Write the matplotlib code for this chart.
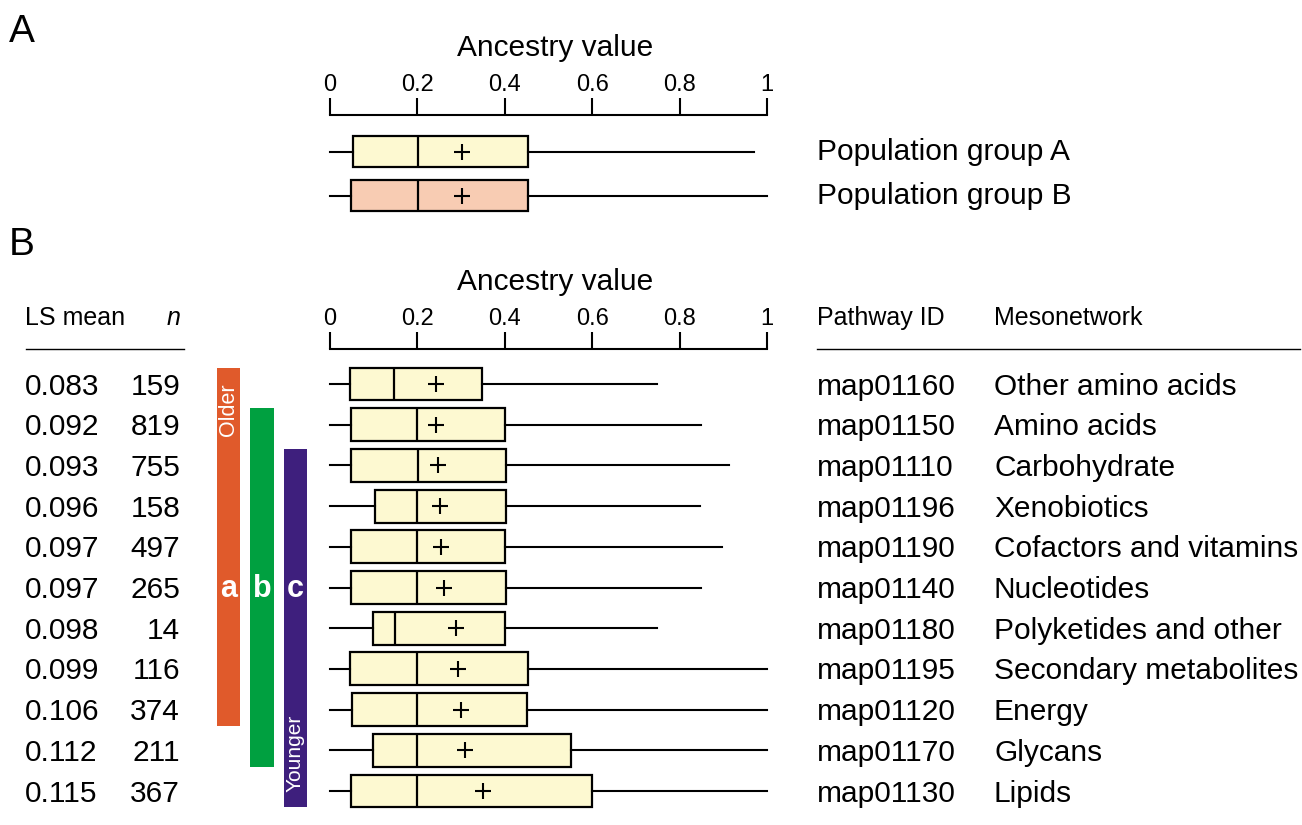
import matplotlib.pyplot as plt
from matplotlib.lines import Line2D
from matplotlib.transforms import blended_transform_factory

plt.rcParams['font.family'] = ['Liberation Sans', 'DejaVu Sans']

W, H = 1302, 825


def fx(px):
    return px / W


def fy(py):
    return 1 - py / H


# ---- data: panel A ----
groups_a = ["Population group A", "Population group B"]
a_q1 = [0.052, 0.049]
a_med = [0.201, 0.201]
a_q3 = [0.452, 0.452]
a_whislo = [0.0, 0.0]
a_whishi = [0.970, 1.0]
a_mean = [0.302, 0.302]
a_colors = ["#FDF9D1", "#F8CCB3"]

# ---- data: panel B ----
ls_mean = ["0.083", "0.092", "0.093", "0.096", "0.097", "0.097",
           "0.098", "0.099", "0.106", "0.112", "0.115"]
n_obs = ["159", "819", "755", "158", "497", "265", "14", "116", "374", "211", "367"]
pathway_ids = ["map01160", "map01150", "map01110", "map01196", "map01190", "map01140",
               "map01180", "map01195", "map01120", "map01170", "map01130"]
mesonetworks = ["Other amino acids", "Amino acids", "Carbohydrate", "Xenobiotics",
                "Cofactors and vitamins", "Nucleotides", "Polyketides and other",
                "Secondary metabolites", "Energy", "Glycans", "Lipids"]
b_q1 = [0.046, 0.048, 0.048, 0.102, 0.048, 0.048, 0.098, 0.046, 0.050, 0.098, 0.048]
b_med = [0.146, 0.200, 0.202, 0.200, 0.198, 0.200, 0.148, 0.198, 0.200, 0.198, 0.200]
b_q3 = [0.347, 0.400, 0.403, 0.403, 0.400, 0.403, 0.400, 0.452, 0.450, 0.551, 0.600]
b_whislo = [0.0] * 11
b_whishi = [0.749, 0.849, 0.912, 0.847, 0.897, 0.849, 0.749, 1.0, 1.0, 1.0, 1.0]
b_mean = [0.242, 0.243, 0.248, 0.252, 0.255, 0.260, 0.288, 0.294, 0.300, 0.310, 0.349]
box_color_b = "#FDF9D1"

# homogeneous subsets (a, b, c)
group_labels = ["a", "b", "c"]
group_first = [0, 1, 2]
group_last = [8, 9, 10]
group_colors = ["#E05A2B", "#00A040", "#3E1F7D"]

ticks = [0, 0.2, 0.4, 0.6, 0.8, 1]
tick_labels = ["0", "0.2", "0.4", "0.6", "0.8", "1"]

fig = plt.figure(figsize=(13.02, 8.25), dpi=100)


def style_axis(ax):
    for s in ['left', 'right', 'bottom']:
        ax.spines[s].set_visible(False)
    ax.spines['top'].set_linewidth(1.5)
    ax.xaxis.tick_top()
    ax.set_xlim(0, 1)
    ax.set_xticks(ticks, tick_labels)
    ax.tick_params(axis='x', direction='out', length=12.5, width=1.5, pad=1.5, labelsize=17)
    ax.set_yticks([])
    ax.patch.set_visible(False)


def draw_boxes(ax, q1, med, q3, lo, hi, mean, width, colors):
    stats = [dict(q1=a, med=b, q3=c, whislo=d, whishi=e, mean=f, fliers=[])
             for a, b, c, d, e, f in zip(q1, med, q3, lo, hi, mean)]
    bp = ax.bxp(stats, positions=range(len(stats)), widths=width,
                orientation='horizontal', showmeans=True, showcaps=False,
                showfliers=False, patch_artist=True, manage_ticks=False,
                boxprops=dict(edgecolor='black', linewidth=1.6),
                medianprops=dict(color='black', linewidth=1.6),
                whiskerprops=dict(color='black', linewidth=1.5),
                meanprops=dict(marker='+', markeredgecolor='black',
                               markersize=11, markeredgewidth=1.5))
    for patch, c in zip(bp['boxes'], colors):
        patch.set_facecolor(c)
    for key in bp:
        for art in bp[key]:
            art.set_clip_on(False)


# ---- panel A ----
axA = fig.add_axes([fx(330), fy(225), 437 / W, 110 / H])
style_axis(axA)
axA.set_ylim((225 - 151.5) / 44, (115 - 151.5) / 44)
draw_boxes(axA, a_q1, a_med, a_q3, a_whislo, a_whishi, a_mean, 0.70, a_colors)
transA = blended_transform_factory(fig.transFigure, axA.transData)
for i, g in enumerate(groups_a):
    axA.text(fx(817), i + 0.2, g, transform=transA, fontsize=21.5, va='baseline')

# ---- panel B ----
step = 40.7
axB = fig.add_axes([fx(330), fy(815), 437 / W, (815 - 349) / H])
style_axis(axB)
ylimB = ((815 - 384) / step, (349 - 384) / step)
axB.set_ylim(*ylimB)
draw_boxes(axB, b_q1, b_med, b_q3, b_whislo, b_whishi, b_mean, 0.81,
           [box_color_b] * len(b_q1))
transB = blended_transform_factory(fig.transFigure, axB.transData)
for i in range(len(ls_mean)):
    y = i + 0.26
    axB.text(fx(25), y, ls_mean[i], transform=transB, fontsize=21.5, va='baseline')
    axB.text(fx(180), y, n_obs[i], transform=transB, fontsize=21.5, va='baseline', ha='right')
    axB.text(fx(817), y, pathway_ids[i], transform=transB, fontsize=21.5, va='baseline')
    axB.text(fx(994), y, mesonetworks[i], transform=transB, fontsize=21.5, va='baseline')

# group bars
axG = fig.add_axes([fx(211.75), fy(815), 100.5 / W, (815 - 349) / H])
axG.set_xlim(-0.5, 2.5)
axG.set_ylim(*ylimB)
axG.axis('off')
heights = [l - f + 0.8 for f, l in zip(group_first, group_last)]
bottoms = [f - 0.4 for f in group_first]
axG.bar(range(3), heights, bottom=bottoms, width=0.687, color=group_colors)
for k, lab in enumerate(group_labels):
    axG.text(k, 5.24, lab, color='white', fontsize=22, fontweight='bold',
             ha='center', va='baseline')
axG.text(0, 0.64, "Older", color='white', fontsize=15.5, rotation=90,
         ha='center', va='center')
axG.text(2, 9.07, "Younger", color='white', fontsize=15, rotation=90,
         ha='center', va='center')

# ---- titles, headers ----
fig.text(fx(9), fy(42), "A", fontsize=28, va='baseline')
fig.text(fx(9), fy(255), "B", fontsize=28, va='baseline')
fig.text(fx(555), fy(56), "Ancestry value", fontsize=21.5, ha='center', va='baseline')
fig.text(fx(555), fy(290), "Ancestry value", fontsize=21.5, ha='center', va='baseline')

fig.text(fx(25), fy(325), "LS mean", fontsize=18, va='baseline')
fig.text(fx(180), fy(325), "n", fontsize=18, va='baseline', ha='right', style='italic')
fig.text(fx(817), fy(325), "Pathway ID", fontsize=18, va='baseline')
fig.text(fx(994), fy(325), "Mesonetwork", fontsize=18, va='baseline')
fig.add_artist(Line2D([fx(26), fx(184)], [fy(349), fy(349)],
                      transform=fig.transFigure, color='black', lw=1))
fig.add_artist(Line2D([fx(817), fx(1300)], [fy(349), fy(349)],
                      transform=fig.transFigure, color='black', lw=1))

fig.savefig("out.png", dpi=100)
